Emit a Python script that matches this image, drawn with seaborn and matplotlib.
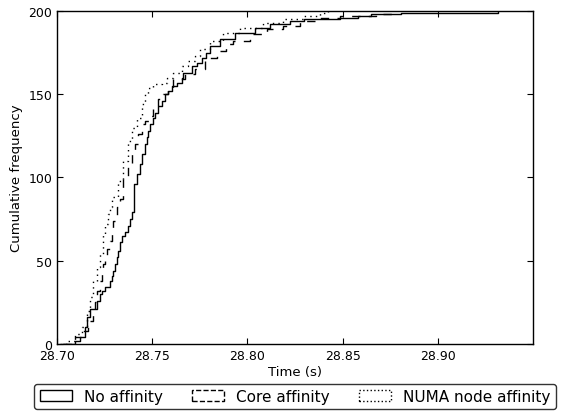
import matplotlib
matplotlib.use("Agg")
import matplotlib.pyplot as plt
from matplotlib.patches import Patch
import pandas as pd
import seaborn as sns

# cumulative counts and the times (s) at which they are reached
no_aff_t = [28.7026, 28.7095, 28.7121, 28.7147, 28.7156, 28.7174, 28.7209, 28.7226,
            28.7235, 28.7253, 28.7279, 28.7289, 28.7295, 28.7305, 28.7316, 28.7321,
            28.7332, 28.7342, 28.7358, 28.7374, 28.7384, 28.7395, 28.7405, 28.7421,
            28.7437, 28.7447, 28.7463, 28.7474, 28.7479, 28.7489, 28.7505, 28.7516,
            28.7532, 28.7553, 28.7568, 28.7584, 28.7605, 28.7632, 28.7658, 28.7663,
            28.7711, 28.7737, 28.7763, 28.7784, 28.7805, 28.7858, 28.7937, 28.8042,
            28.8121, 28.8226, 28.8295, 28.8489, 28.8579, 28.8647, 28.8805, 28.9316]
no_aff_n = [0, 2, 4, 10, 16, 21, 26, 30,
            32, 34, 38, 41, 44, 48, 52, 56,
            61, 65, 67, 71, 75, 79, 96, 102,
            108, 114, 120, 124, 128, 132, 136, 139,
            143, 146, 150, 152, 155, 157, 160, 163,
            167, 169, 172, 175, 179, 183, 187, 190,
            192, 194, 195, 196, 197, 198, 199, 200]

core_t = [28.7032, 28.7095, 28.7137, 28.7163, 28.7189, 28.7200, 28.7211, 28.7226,
          28.7237, 28.7242, 28.7253, 28.7263, 28.7279, 28.7289, 28.7295, 28.7305,
          28.7316, 28.7332, 28.7347, 28.7374, 28.7395, 28.7411, 28.7426, 28.7447,
          28.7463, 28.7489, 28.7505, 28.7532, 28.7558, 28.7584, 28.7611, 28.7674,
          28.7726, 28.7779, 28.7842, 28.7889, 28.7926, 28.8016, 28.8105, 28.8189,
          28.8279, 28.8384, 28.8489, 28.8674, 28.8779]
core_n = [0, 4, 8, 14, 20, 25, 32, 38,
          43, 48, 53, 57, 62, 68, 74, 77,
          82, 87, 100, 108, 114, 120, 126, 132,
          134, 137, 141, 147, 150, 154, 159, 162,
          165, 172, 176, 180, 182, 186, 189, 191,
          194, 196, 197, 198, 200]

numa_t = [28.7016, 28.7053, 28.7095, 28.7132, 28.7158, 28.7174, 28.7189, 28.7211,
          28.7226, 28.7242, 28.7253, 28.7268, 28.7279, 28.7289, 28.7321, 28.7347,
          28.7374, 28.7395, 28.7421, 28.7447, 28.7463, 28.7479, 28.7505, 28.7553,
          28.7579, 28.7611, 28.7658, 28.7689, 28.7726, 28.7753, 28.7805, 28.7874,
          28.7963, 28.8084, 28.8189, 28.8295, 28.8384, 28.8426]
numa_n = [0, 2, 6, 10, 20, 28, 38, 46,
          54, 66, 72, 78, 82, 88, 98, 110,
          122, 130, 136, 144, 150, 154, 156, 157,
          160, 163, 167, 170, 173, 177, 182, 187,
          190, 193, 195, 197, 199, 200]

labels = ["No affinity", "Core affinity", "NUMA node affinity"]

df = pd.concat([
    pd.DataFrame({"time": no_aff_t, "count": no_aff_n, "run": labels[0]}),
    pd.DataFrame({"time": core_t, "count": core_n, "run": labels[1]}),
    pd.DataFrame({"time": numa_t, "count": numa_n, "run": labels[2]}),
])

sns.set_style("ticks")
plt.rcParams.update({
    "xtick.direction": "in", "ytick.direction": "in",
    "xtick.top": True, "ytick.right": True,
    "xtick.major.size": 4, "ytick.major.size": 4,
    "xtick.color": "black", "ytick.color": "black",
    "text.color": "black", "axes.labelcolor": "black",
    "font.size": 9, "axes.linewidth": 1.0,
    "axes.edgecolor": "black",
})

fig = plt.figure(figsize=(5.64, 4.14), dpi=100)
ax = fig.add_axes([0.101, 0.167, 0.844, 0.804])

styles = {labels[0]: "", labels[1]: (6, 6), labels[2]: (1, 3)}
sns.lineplot(data=df, x="time", y="count", hue="run", style="run",
             palette=["black"] * 3, dashes=styles, drawstyle="steps-post",
             sort=False, estimator=None, linewidth=1.0, legend=False, ax=ax)

ax.set_xlim(28.70, 28.95)
ax.set_ylim(0, 200)
ax.set_xticks([28.70, 28.75, 28.80, 28.85, 28.90])
ax.set_xticklabels(["28.70", "28.75", "28.80", "28.85", "28.90"])
ax.set_yticks([0, 50, 100, 150, 200])
ax.set_xlabel("Time (s)", fontsize=9.5, labelpad=2)
ax.set_ylabel("Cumulative frequency", fontsize=9.5)
ax.tick_params(labelsize=9)
for s in ax.spines.values():
    s.set_visible(True)

handles = [Patch(facecolor="white", edgecolor="black", linestyle="-"),
           Patch(facecolor="white", edgecolor="black", linestyle="--"),
           Patch(facecolor="white", edgecolor="black", linestyle=":")]
leg = ax.legend(handles, labels, loc="upper center", bbox_to_anchor=(0.5, -0.12),
                ncol=3, fontsize=11, frameon=True, fancybox=True,
                handlelength=2.1, columnspacing=1.9, borderaxespad=0,
                borderpad=0.35)
leg.get_frame().set_edgecolor("black")
leg.get_frame().set_linewidth(1.0)

fig.savefig("out.png", dpi=100)
